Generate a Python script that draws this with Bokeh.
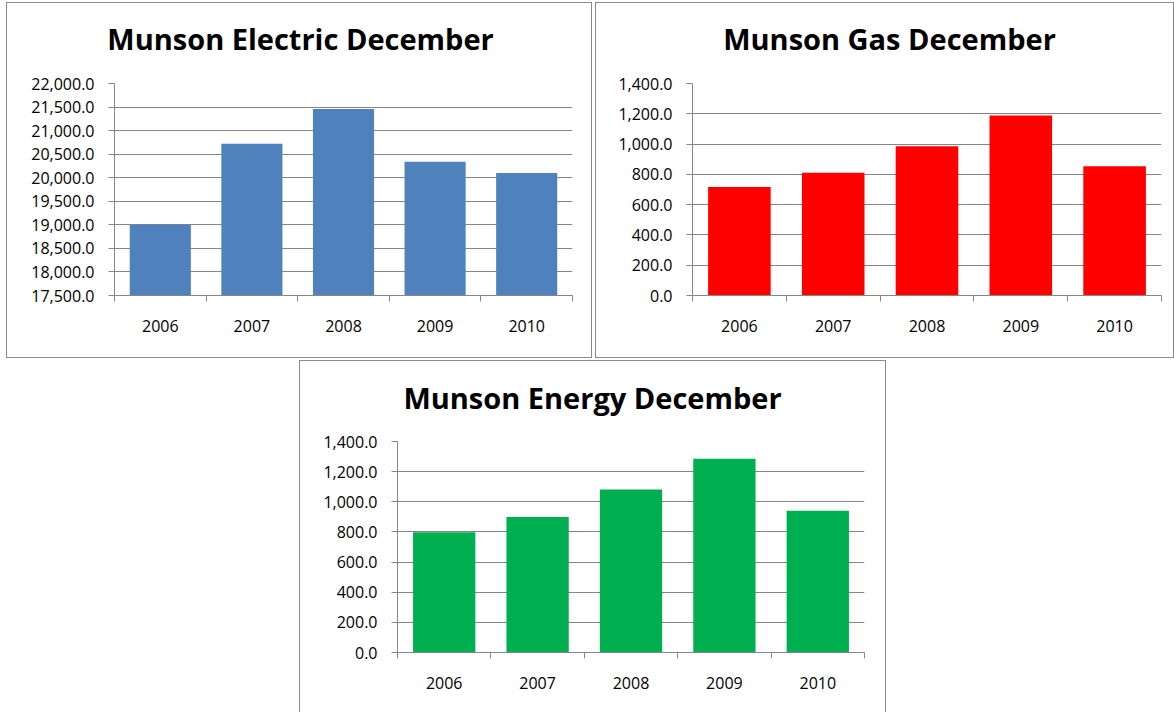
from bokeh.plotting import figure
from bokeh.models import Range1d, FixedTicker, NumeralTickFormatter, Label, Spacer
from bokeh.layouts import row, column
from bokeh.embed import file_html
from bokeh.resources import INLINE

# ---- data ----
years = [2006, 2007, 2008, 2009, 2010]
electric = [19000, 20720, 21460, 20340, 20100]
gas = [716, 811, 985, 1188, 853]
energy = [798, 899, 1082, 1285, 941]
electric_ticks = [17500, 18000, 18500, 19000, 19500, 20000, 20500, 21000, 21500, 22000]
gas_ticks = [0, 200, 400, 600, 800, 1000, 1200, 1400]
energy_ticks = [0, 200, 400, 600, 800, 1000, 1200, 1400]

GRID = "#868686"
FONT = "Open Sans"


def make_chart(title, values, color, yticks, width, height, left, right, top, bottom,
               title_x, title_y, border):
    p = figure(width=width, height=height,
               x_range=Range1d(years[0] - 0.5, years[-1] + 0.5),
               y_range=Range1d(yticks[0], yticks[-1]),
               output_backend="svg", toolbar_location=None,
               min_border_left=left, min_border_right=right,
               min_border_top=top, min_border_bottom=bottom)
    p.vbar(x=years, top=values, bottom=yticks[0], width=0.667,
           fill_color=color, line_color=None)
    p.outline_line_color = None
    p.xgrid.visible = False
    p.ygrid.ticker = FixedTicker(ticks=yticks)
    p.ygrid.grid_line_color = GRID
    p.ygrid.grid_line_width = 1

    ya = p.yaxis[0]
    ya.ticker = FixedTicker(ticks=yticks)
    ya.formatter = NumeralTickFormatter(format="0,0.0")
    ya.axis_line_color = GRID
    ya.major_tick_line_color = GRID
    ya.major_tick_out = 6
    ya.major_tick_in = 0
    ya.minor_tick_line_color = None
    ya.major_label_text_font = FONT
    ya.major_label_text_font_size = "16px"
    ya.major_label_text_color = "black"
    ya.major_label_standoff = 14

    xa = p.xaxis[0]
    xa.ticker = FixedTicker(ticks=years,
                            minor_ticks=[y - 0.5 for y in years] + [years[-1] + 0.5])
    xa.axis_line_color = GRID
    xa.major_tick_line_color = None
    xa.minor_tick_line_color = GRID
    xa.minor_tick_out = 6
    xa.minor_tick_in = 0
    xa.major_label_text_font = FONT
    xa.major_label_text_font_size = "16px"
    xa.major_label_text_color = "black"
    xa.major_label_standoff = 18

    p.add_layout(Label(text=title, x=title_x, y=title_y, x_units="screen", y_units="screen",
                       text_align="center", text_baseline="alphabetic",
                       text_font=FONT, text_font_style="bold", text_font_size="29px",
                       text_color="black"), "above")
    p.styles = border
    return p


full = {"border": "1px solid #8a8a8a"}
no_bottom = {"border": "1px solid #8a8a8a", "border-bottom": "none"}

p1 = make_chart("Munson Electric December", electric, "#4F81BD", electric_ticks,
                586, 356, 107, 21, 80, 64, 186, 45, full)
p2 = make_chart("Munson Gas December", gas, "#FF0000", gas_ticks,
                579, 356, 96, 14, 80, 64, 197, 45, full)
p3 = make_chart("Munson Energy December", energy, "#00B050", energy_ticks,
                587, 352, 97, 23, 80, 61, 195, 44, no_bottom)

layout = column(Spacer(height=2),
                row(Spacer(width=6), p1, Spacer(width=3), p2),
                Spacer(height=2),
                row(Spacer(width=299), p3))

open("out.html", "w").write(file_html(layout, INLINE))
